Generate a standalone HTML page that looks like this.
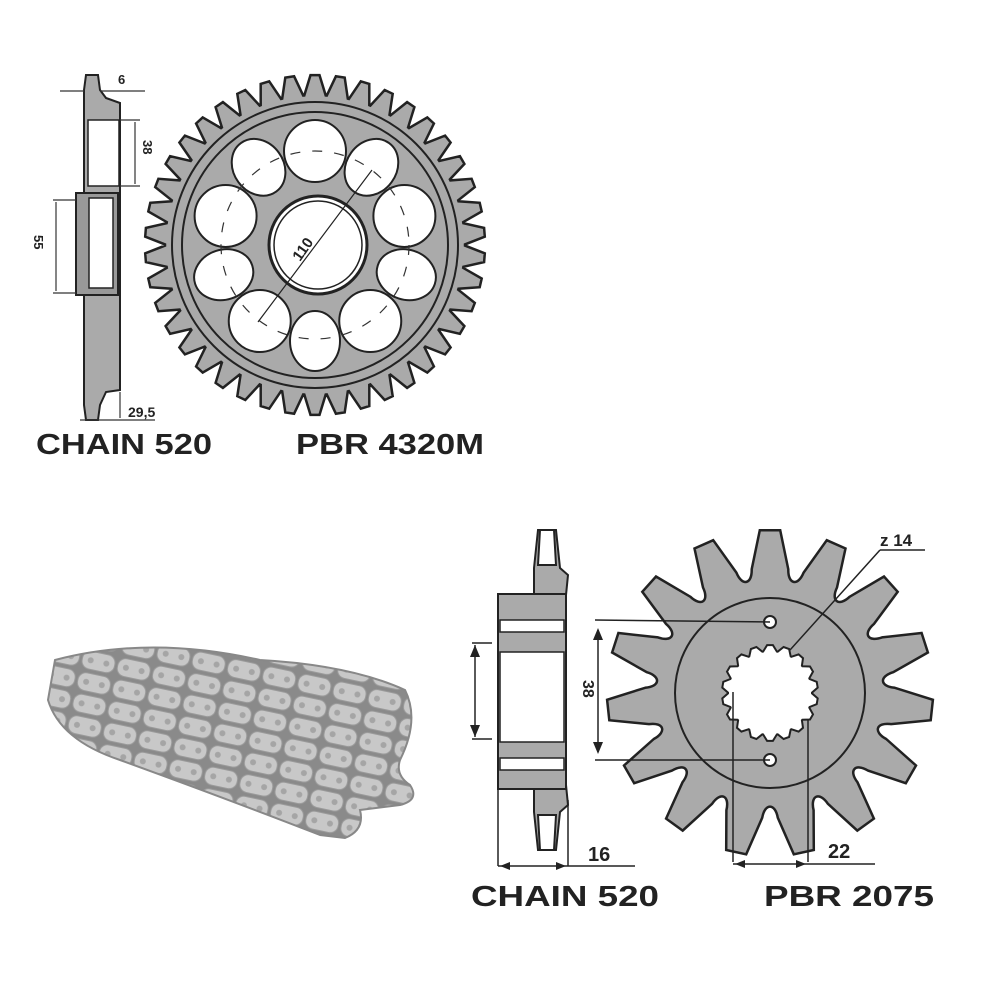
<!DOCTYPE html>
<html><head><meta charset="utf-8"><style>
body{margin:0;background:#fff}
svg{display:block}
text{font-family:"Liberation Sans",Arial,sans-serif;font-weight:bold;fill:#222}
</style></head><body>
<svg id="s" width="1000" height="1000" viewBox="0 0 1000 1000" xmlns="http://www.w3.org/2000/svg">
<rect width="1000" height="1000" fill="#fff"/>
<defs>
<pattern id="lk" width="36" height="22" patternUnits="userSpaceOnUse" patternTransform="rotate(12)">
<rect width="36" height="22" fill="#8a8a8a"/>
<rect x="1.5" y="2" width="33" height="18" rx="8" fill="#c8c8c8" stroke="#9a9a9a"/>
<circle cx="10" cy="11" r="3" fill="#a5a5a5"/><circle cx="26" cy="11" r="3" fill="#a5a5a5"/>
</pattern>
</defs>
<g stroke="#222" stroke-width="2" fill="#aaa">
<path d="M84 90 L86 75 L98 75 L100 90 L106 98 L120 103 L120 390 L106 392 L100 405 L98 420 L86 420 L84 405 Z"/>
<rect x="88" y="120" width="31" height="66" fill="#fff" stroke-width="1.5"/>
<rect x="76" y="193" width="42" height="102" fill="#999"/>
<rect x="89" y="198" width="24" height="90" fill="#fff" stroke-width="1.5"/>
</g>
<g stroke="#333" stroke-width="1.2" fill="none">
<line x1="60" y1="91" x2="84" y2="91"/><line x1="100" y1="91" x2="145" y2="91"/>
<line x1="120" y1="120" x2="140" y2="120"/><line x1="120" y1="186" x2="140" y2="186"/><line x1="135" y1="122" x2="135" y2="184"/>
<line x1="53" y1="200" x2="76" y2="200"/><line x1="53" y1="293" x2="76" y2="293"/><line x1="56" y1="202" x2="56" y2="291"/>
<line x1="120" y1="392" x2="120" y2="418"/><line x1="80" y1="420" x2="155" y2="420"/>
</g>
<text x="118" y="84" font-size="13">6</text>
<text x="0" y="0" font-size="13" transform="translate(143,140) rotate(90)">38</text>
<text x="0" y="0" font-size="13" transform="translate(34,235) rotate(90)">55</text>
<text x="128" y="417" font-size="14">29,5</text>
<text x="36" y="454" font-size="29" textLength="176" lengthAdjust="spacingAndGlyphs">CHAIN 520</text>
<text x="296" y="454" font-size="29" textLength="188" lengthAdjust="spacingAndGlyphs">PBR 4320M</text>
<g id="rear"></g>
<g stroke="#222" stroke-width="2" fill="#aaa">
<path d="M538 530 L556 530 L560 568 L568 575 L566 595 L566 785 L568 805 L560 812 L556 850 L538 850 L534 812 L534 568 Z"/>
<rect x="498" y="594" width="68" height="195"/>
<rect x="500" y="620" width="64" height="12" fill="#fff" stroke-width="1.5"/>
<rect x="500" y="652" width="64" height="90" fill="#fff" stroke-width="1.5"/>
<rect x="500" y="758" width="64" height="12" fill="#fff" stroke-width="1.5"/>
<path d="M540 530 L554 530 L556 565 L538 565 Z M538 815 L556 815 L554 850 L540 850 Z" fill="#fff"/>
</g>
<g id="front"></g>
<g stroke="#222" stroke-width="1.5" fill="none">
<line x1="472" y1="643" x2="492" y2="643"/><line x1="472" y1="739" x2="492" y2="739"/><line x1="475" y1="645" x2="475" y2="737"/>
<line x1="498" y1="790" x2="498" y2="866"/><line x1="568" y1="800" x2="568" y2="866"/>
<line x1="498" y1="866" x2="635" y2="866"/>
<line x1="595" y1="620" x2="770" y2="622"/><line x1="595" y1="760" x2="770" y2="760"/><line x1="598" y1="630" x2="598" y2="752"/>
<line x1="733" y1="692" x2="733" y2="862"/><line x1="808" y1="720" x2="808" y2="862"/><line x1="733" y1="864" x2="875" y2="864"/>
<line x1="790" y1="650" x2="880" y2="550"/><line x1="880" y1="550" x2="925" y2="550"/>
</g>
<g fill="#222"><path d="M475 645 l-5 12 h10z M475 737 l-5 -12 h10z M598 628 l-5 12 h10z M598 754 l-5 -12 h10z M500 866 l10 -4 v8z M566 866 l-10 -4 v8z M735 864 l10 -4 v8z M806 864 l-10 -4 v8z"/></g>
<text x="0" y="0" font-size="16" transform="translate(583,680) rotate(90)">38</text>
<text x="588" y="861" font-size="20">16</text>
<text x="828" y="858" font-size="20">22</text>
<text x="880" y="546" font-size="17">z 14</text>
<text x="471" y="906" font-size="29" textLength="188" lengthAdjust="spacingAndGlyphs">CHAIN 520</text>
<text x="764" y="906" font-size="29" textLength="170" lengthAdjust="spacingAndGlyphs">PBR 2075</text>
<path d="M55 660 Q150 635 260 660 Q350 665 405 690 Q420 720 400 760 Q395 775 410 785 Q420 800 400 805 L360 810 Q365 830 345 838 L320 835 Q230 800 120 760 Q60 740 48 700 Z" fill="url(#lk)" stroke="#888" stroke-width="2"/>
</svg>
<script>
const ns="http://www.w3.org/2000/svg";
function el(p,t,a){let e=document.createElementNS(ns,t);for(let k in a)e.setAttribute(k,a[k]);p.appendChild(e);return e;}
function gear(cx,cy,n,rt,rr,rot){let d="";for(let i=0;i<n;i++){let a=rot+i*2*Math.PI/n,h=Math.PI/n;
let pts=[[a-h*0.95,rr],[a-h*0.35,rt],[a+h*0.35,rt],[a+h*0.95,rr]];
pts.forEach((p,j)=>{let x=cx+p[1]*Math.cos(p[0]),y=cy+p[1]*Math.sin(p[0]);d+=(i==0&&j==0?"M":"L")+x.toFixed(1)+" "+y.toFixed(1)+" ";});}
return d+"Z";}
function P(cx,cy,a,r){return (cx+r*Math.cos(a)).toFixed(1)+" "+(cy+r*Math.sin(a)).toFixed(1);}
function gear2(cx,cy,n,rt,rr,rot){let d="",h=Math.PI/n;
for(let i=0;i<n;i++){let a=rot+i*2*h;
d+=(i==0?"M":"L")+P(cx,cy,a-h*0.7,rr+10)+" L"+P(cx,cy,a-h*0.3,rt)+" L"+P(cx,cy,a+h*0.3,rt)+" L"+P(cx,cy,a+h*0.7,rr+10)+" ";
d+="C"+P(cx,cy,a+h*0.78,rr-5)+" "+P(cx,cy,a+h*1.22,rr-5)+" "+P(cx,cy,a+h*1.3,rr+10)+" ";}
return d+"Z";}
let r=document.getElementById("rear");
el(r,"path",{d:gear(315,245,42,170,150,-Math.PI/2),fill:"#aaa",stroke:"#222","stroke-width":2.5});
el(r,"circle",{cx:315,cy:245,r:143,fill:"none",stroke:"#222","stroke-width":2});
el(r,"circle",{cx:315,cy:245,r:133,fill:"none",stroke:"#222","stroke-width":2});
for(let i=0;i<10;i++){let a=-Math.PI/2+i*Math.PI/5,big=i%2==0;let R=big?94:96;
let x=315+R*Math.cos(a),y=245+R*Math.sin(a);
if(big)el(r,"circle",{cx:x,cy:y,r:31,fill:"#fff",stroke:"#222","stroke-width":2});
else el(r,"ellipse",{cx:x,cy:y,rx:25,ry:30,transform:`rotate(${a*180/Math.PI+90} ${x} ${y})`,fill:"#fff",stroke:"#222","stroke-width":2});}
el(r,"circle",{cx:318,cy:245,r:49,fill:"#fff",stroke:"#222","stroke-width":3});
el(r,"circle",{cx:318,cy:245,r:44,fill:"none",stroke:"#222","stroke-width":1.5});
el(r,"circle",{cx:315,cy:245,r:94,fill:"none",stroke:"#333","stroke-width":1.2,"stroke-dasharray":"10 12"});
el(r,"line",{x1:258,y1:322,x2:372,y2:170,stroke:"#222","stroke-width":1.2});
let t=el(r,"text",{x:0,y:0,"font-size":15,transform:"translate(300,262) rotate(-55)"});t.textContent="110";
let f=document.getElementById("front");
el(f,"path",{d:gear2(770,693,15,163,115,-Math.PI/2),fill:"#aaa",stroke:"#222","stroke-width":2.5});
el(f,"circle",{cx:770,cy:693,r:95,fill:"none",stroke:"#222","stroke-width":2});
el(f,"path",{d:gear(770,693,18,48,42,-Math.PI/2),fill:"#fff",stroke:"#222","stroke-width":2});
el(f,"circle",{cx:770,cy:622,r:6,fill:"#fff",stroke:"#222","stroke-width":2});
el(f,"circle",{cx:770,cy:760,r:6,fill:"#fff",stroke:"#222","stroke-width":2});
</script>
</body></html>
